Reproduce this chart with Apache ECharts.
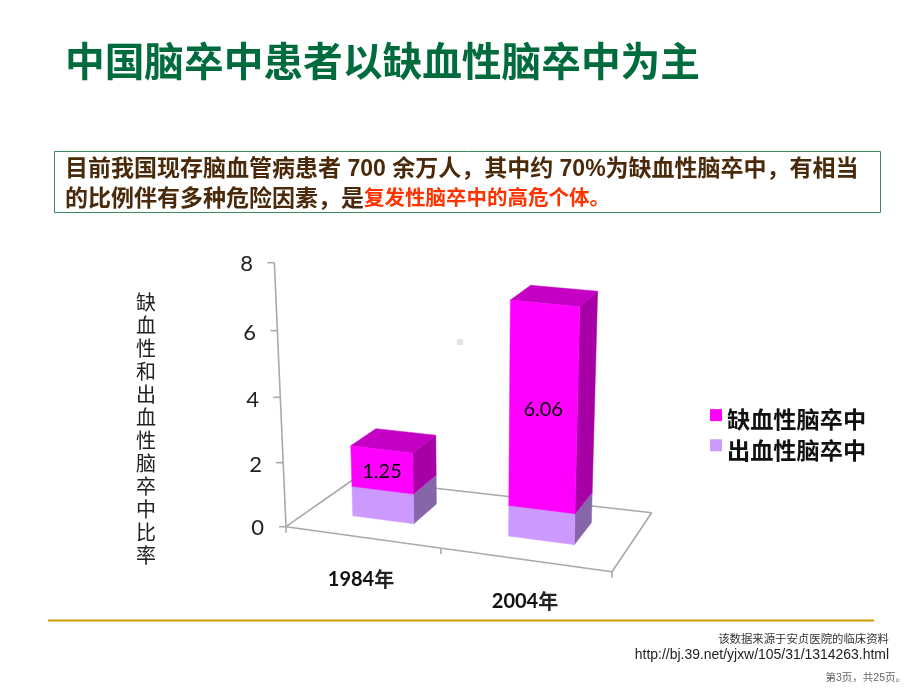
<!DOCTYPE html>
<html><head><meta charset="utf-8">
<style>html,body{margin:0;padding:0;background:#fff}#c{width:920px;height:690px}</style>
<script src="https://cdn.jsdelivr.net/npm/echarts@6/dist/echarts.min.js"></script>
</head><body><div id="c"></div>
<script>
// ---- data ----
const categories = ['1984年', '2004年'];
const hemorrhagic = [0.92, 0.94];
const ischemic = [1.25, 6.06];
const seriesNames = ['缺血性脑卒中', '出血性脑卒中'];
const yTicks = [0, 2, 4, 6, 8];

// ---- projection of the pseudo-3D plot ----
const FL = [286, 526.7], FR = [612, 571.7], BR = [651.7, 512.7], BL = [354, 479];
const DEPTH_FRONT = 0.345, DEPTH_BACK = 0.73;
function floorPt(u, d) {
  const fx = FL[0] + (FR[0] - FL[0]) * u, fy = FL[1] + (FR[1] - FL[1]) * u;
  const bx = BL[0] + (BR[0] - BL[0]) * u, by = BL[1] + (BR[1] - BL[1]) * u;
  return [fx + (bx - fx) * d, fy + (by - fy) * d];
}
function geom(api) {
  const c0 = api.coord([0, 0]), band = api.size([1, 0])[0];
  const c8 = api.coord([0, 8]);
  const left = c0[0] - band / 2, span = c0[1] - c8[1];
  const project = (u, d, value) => {
    const b = floorPt(u, d);
    const f = (c0[1] - api.coord([0, value])[1]) / span;
    const depthShrink = 1 - Math.max(0, d - DEPTH_FRONT) * 0.075;
    const h = span * (0.9606 * f + 0.0394 * f * f) * (1 + (b[0] - 286) * 0.00012) * (d === 0 ? 1 : depthShrink);
    return [b[0] + (b[0] - 475) * 0.000233 * h, b[1] - h];
  };
  return { band, left, project };
}
const poly = (points, fill) => ({
  type: 'polygon', shape: { points },
  style: { fill, stroke: fill, lineWidth: 0.5 }
});
const seg = (a, b) => ({
  type: 'line', shape: { x1: a[0], y1: a[1], x2: b[0], y2: b[1] },
  style: { stroke: '#a9a9a9', lineWidth: 1.6 }
});
function frameItem(params, api) {
  const g = geom(api), p = g.project, ch = [];
  ch.push(seg(FL, BL), seg(BL, BR), seg(BR, FR), seg(FL, FR));
  ch.push(seg(p(0, 0, 0), p(0, 0, 8)));
  yTicks.forEach(t => {
    const q = p(0, 0, t);
    ch.push(seg(q, [q[0] - 7, q[1]]));
  });
  [0, 0.475, 1].forEach(u => {
    const q = floorPt(u, 0);
    ch.push(seg(q, [q[0], q[1] + 6]));
  });
  return { type: 'group', children: ch };
}
function barItem(base, front, side, top, labelled) {
  return function (params, api) {
    const i = api.value(0), v = api.value(1), from = base ? base[i] : 0, to = from + v;
    const g = geom(api), p = g.project;
    const centre = (api.coord([i, 0])[0] - g.left) / (2 * g.band) - 0.0165;
    const half = (0.193 + (centre - 0.2335) * 0.03) / 2;
    const u0 = centre - half, u1 = centre + half, d0 = DEPTH_FRONT, d1 = DEPTH_BACK;
    const ch = [
      poly([p(u1, d0, from), p(u1, d1, from), p(u1, d1, to), p(u1, d0, to)], side),
      poly([p(u0, d0, to), p(u1, d0, to), p(u1, d1, to), p(u0, d1, to)], top),
      poly([p(u0, d0, from), p(u1, d0, from), p(u1, d0, to), p(u0, d0, to)], front)
    ];
    if (labelled) {
      const m = p(centre - 0.007, d0, (from + to) / 2);
      ch.push({
        type: 'text', x: m[0] + 2, y: m[1] + 2,
        style: { text: v.toFixed(2), fill: '#000', font: '20px Lato, "Noto Sans", sans-serif', align: 'center', verticalAlign: 'middle' }
      });
    }
    return { type: 'group', children: ch };
  };
}
const seriesData = arr => arr.map((v, i) => [i, v]);

// tick-label nudges that follow the slanted axis (right, down)
const yNudge = { 0: [15, 1.3], 2: [17, 4.3], 4: [20, 5.3], 6: [23, 4], 8: [26, 1.3] };
const yRich = {};
yTicks.forEach(t => {
  yRich['t' + t] = { fontFamily: 'Lato', fontSize: 22, color: '#222', padding: [yNudge[t][1] * 2, yNudge[t][0], 0, 0] };
});
const CJK = '"Liberation Sans","Noto Sans CJK SC",sans-serif';

const option = {
  animation: false,
  backgroundColor: '#fff',
  title: [
    { text: '中国脑卒中患者以缺血性脑卒中为主', left: 65, top: 41, padding: 0,
      textStyle: { fontFamily: '"Noto Sans CJK SC"', fontWeight: 'bold', fontSize: 39.7, color: '#006b3c' } },
    { text: '目前我国现存脑血管病患者 700 余万人，其中约 70%为缺血性脑卒中，有相当', left: 65, top: 158, padding: 0,
      textStyle: { fontFamily: CJK, fontWeight: 'bold', fontSize: 23, color: '#4a2a0a' } },
    { text: '的比例伴有多种危险因素，是{r|复发性脑卒中的高危个体。}', left: 65, top: 188, padding: 0,
      textStyle: { fontFamily: CJK, fontWeight: 'bold', fontSize: 23, color: '#4a2a0a',
        rich: { r: { fontFamily: CJK, fontWeight: 'bold', fontSize: 20.5, color: '#ff3300' } } } },
    { text: '该数据来源于安贞医院的临床资料', right: 31, top: 634, padding: 0,
      textStyle: { fontFamily: CJK, fontWeight: 'normal', fontSize: 11.4, color: '#333' } },
    { text: 'http://bj.39.net/yjxw/105/31/1314263.html', right: 31, top: 648, padding: 0,
      textStyle: { fontFamily: CJK, fontWeight: 'normal', fontSize: 13.95, color: '#222' } },
    { text: '第3页，共25页。', right: 14, top: 673, padding: 0,
      textStyle: { fontFamily: CJK, fontWeight: 'normal', fontSize: 10.5, color: '#666' } }
  ],
  graphic: [
    { type: 'rect', shape: { x: 54.5, y: 151.5, width: 826, height: 61 }, style: { fill: 'none', stroke: '#3f8a5f', lineWidth: 1 } },
    { type: 'line', shape: { x1: 48, y1: 620.5, x2: 874, y2: 620.5 }, style: { stroke: '#cc9900', lineWidth: 2 } },
    { type: 'rect', shape: { x: 457, y: 339, width: 6, height: 6 }, style: { fill: '#e4e4e4' } }
  ],
  legend: {
    orient: 'vertical', left: 705, top: 394, itemWidth: 12, itemHeight: 12, itemGap: -2,
    icon: 'rect', data: seriesNames, selectedMode: false,
    formatter: n => '{a|' + n + '}',
    textStyle: { rich: { a: { fontFamily: '"Noto Sans CJK SC"', fontWeight: 'bold', fontSize: 23.2, color: '#111', lineHeight: 22, padding: [9, 0, 0, 0] } } }
  },
  grid: { left: 279, top: 262.7, width: 328, height: 264 },
  xAxis: {
    type: 'category', data: categories,
    axisLine: { show: false }, axisTick: { show: false }, splitLine: { show: false },
    axisLabel: {
      margin: 43, interval: 0,
      formatter: (v, i) => '{n' + i + '|' + v.replace('年', '') + '}{y' + i + '|年}',
      rich: {
        n0: { fontFamily: 'Lato', fontWeight: 'bold', fontSize: 20, color: '#111' },
        y0: { fontFamily: '"Noto Sans CJK SC"', fontWeight: 'bold', fontSize: 20, color: '#222' },
        n1: { fontFamily: 'Lato', fontWeight: 'bold', fontSize: 20, color: '#111', padding: [22, 0, 0, 0] },
        y1: { fontFamily: '"Noto Sans CJK SC"', fontWeight: 'bold', fontSize: 20, color: '#222', padding: [22, 0, 0, 0] }
      }
    }
  },
  yAxis: {
    type: 'value', min: 0, max: 8, interval: 2,
    axisLine: { show: false }, axisTick: { show: false }, splitLine: { show: false },
    axisLabel: { margin: 0, formatter: v => '{t' + v + '|' + v + '}', rich: yRich },
    name: '\n\n\n' + '缺血性和出血性脑卒中比率'.split('').join('\n'),
    nameLocation: 'middle', nameRotate: 0, nameGap: 133,
    nameTextStyle: { fontFamily: '"Noto Sans CJK SC"', fontSize: 20, lineHeight: 23, color: '#222', align: 'center' }
  },
  series: [
    { type: 'custom', name: 'frame', silent: true, z: 1, data: [[0, 0]], renderItem: frameItem, encode: { x: 0, y: 1 } },
    { type: 'custom', name: seriesNames[1], z: 2, itemStyle: { color: '#cc99ff' },
      data: seriesData(hemorrhagic), encode: { x: 0, y: 1 },
      renderItem: barItem(null, '#cc99ff', '#8666a8', '#cc99ff', false) },
    { type: 'custom', name: seriesNames[0], z: 3, itemStyle: { color: '#ff00ff' },
      data: seriesData(ischemic), encode: { x: 0, y: 1 },
      renderItem: barItem(hemorrhagic, '#ff00ff', '#a600a6', '#c400c4', true) }
  ]
};
echarts.init(document.getElementById('c')).setOption(option);
</script></body></html>
